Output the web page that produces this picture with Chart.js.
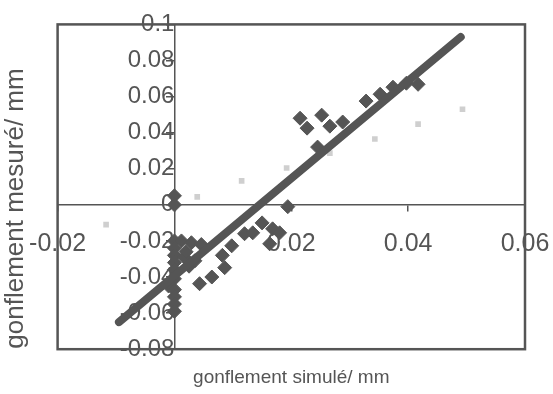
<!DOCTYPE html>
<html>
<head>
<meta charset="utf-8">
<script src="https://cdn.jsdelivr.net/npm/chart.js@4/dist/chart.umd.min.js"></script>
<style>
  body { margin: 0; background: #fff; }
</style>
</head>
<body>
<canvas id="chart" width="553" height="394"></canvas>
<script>
// measured points (diamonds)
const measX = [0, 0, 0, 0, 0, 0, 0, -0.001, 0, 0, 0, 0, 0,
  0.0012, 0.0029, 0.0046, 0.0017, 0.0025, 0.002, 0.0035,
  0.0043, 0.0064, 0.0086, 0.0082, 0.0098, 0.012, 0.0134, 0.015, 0.0168, 0.018, 0.0163, 0.0194,
  0.0215, 0.0227, 0.0252, 0.0266, 0.0288, 0.0245, 0.0328, 0.0352, 0.0374, 0.0397, 0.0417];
const measY = [0.005, 0.0, -0.02, -0.024, -0.028, -0.032, -0.036, -0.045, -0.041, -0.047, -0.051, -0.055, -0.059,
  -0.02, -0.021, -0.022, -0.029, -0.034, -0.026, -0.031,
  -0.0437, -0.04, -0.0348, -0.028, -0.0227, -0.016, -0.0155, -0.01, -0.0133, -0.0155, -0.0216, -0.001,
  0.048, 0.0425, 0.0497, 0.0436, 0.0459, 0.032, 0.0575, 0.0613, 0.0652, 0.0674, 0.0668];

// faint grey points
const faintX = [-0.0117, 0.0039, 0.0115, 0.0192, 0.0266, 0.0343, 0.0417, 0.0493];
const faintY = [-0.011, 0.0044, 0.0133, 0.0204, 0.0287, 0.0365, 0.0447, 0.053];

// trend line
const lineX = [-0.0095, 0.049];
const lineY = [-0.065, 0.093];

const xTicks = [-0.02, 0, 0.02, 0.04, 0.06];
const xTickLabels = ['-0.02', '', '0.02', '0.04', '0.06'];
const yTicks = [-0.08, -0.06, -0.04, -0.02, 0, 0.02, 0.04, 0.06, 0.08, 0.1];
const yTickLabels = ['-0.08', '-0.06', '-0.04', '-0.02', '0', '0.02', '0.04', '0.06', '0.08', '0.1'];

const toPts = (xs, ys) => xs.map((x, i) => ({ x: x, y: ys[i] }));
const ink = '#555';
const font = "'Liberation Sans', Arial, sans-serif";

// box round the plot area
const frame = {
  id: 'frame',
  afterDraw(chart) {
    const a = chart.chartArea, ctx = chart.ctx;
    ctx.save();
    ctx.strokeStyle = ink;
    ctx.lineWidth = 2.5;
    ctx.strokeRect(a.left, a.top, a.right - a.left, a.bottom - a.top);
    ctx.restore();
  }
};

new Chart(document.getElementById('chart'), {
  type: 'scatter',
  data: {
    datasets: [
      {
        data: toPts(lineX, lineY),
        type: 'line',
        showLine: true,
        borderColor: ink,
        borderWidth: 8,
        borderCapStyle: 'round',
        pointRadius: 0,
        order: 0
      },
      {
        data: toPts(measX, measY),
        pointStyle: 'rectRot',
        pointRadius: 7,
        backgroundColor: ink,
        borderColor: ink,
        borderWidth: 1,
        order: 1
      },
      {
        data: toPts(faintX, faintY),
        pointStyle: 'rect',
        pointRadius: 4,
        backgroundColor: 'rgba(195,195,195,0.8)',
        borderColor: 'rgba(195,195,195,0.8)',
        borderWidth: 0,
        order: 2
      }
    ]
  },
  options: {
    responsive: false,
    animation: false,
    layout: { padding: { top: 23, right: 28, left: 0, bottom: 0 } },
    plugins: {
      legend: { display: false },
      tooltip: { enabled: false },
      title: {
        display: true,
        position: 'left',
        text: 'gonflement mesuré/ mm',
        color: ink,
        font: { family: font, size: 26, weight: 'normal', lineHeight: 1.1 },
        padding: { top: 2, bottom: 27 }
      },
      subtitle: {
        display: true,
        position: 'bottom',
        fullSize: false,
        text: 'gonflement simulé/ mm',
        color: ink,
        font: { family: font, size: 19, weight: 'normal' },
        padding: { top: 17, bottom: 5 }
      }
    },
    scales: {
      x: {
        type: 'linear',
        min: -0.02,
        max: 0.06,
        position: { y: 0 },
        afterBuildTicks: s => { s.ticks = xTicks.map(v => ({ value: v })); },
        // labels may hang over the frame, as in the original
        afterFit: s => { s.paddingLeft = 0; s.paddingRight = 0; },
        ticks: {
          callback: (v, i) => xTickLabels[i],
          color: ink,
          font: { family: font, size: 25 },
          padding: 18,
          maxRotation: 0,
          autoSkip: false
        },
        grid: { drawOnChartArea: false, tickLength: 6, color: ink, lineWidth: 1.5 },
        border: { display: true, color: ink, width: 1.5 }
      },
      y: {
        type: 'linear',
        min: -0.08,
        max: 0.1,
        position: { x: 0 },
        afterBuildTicks: s => { s.ticks = yTicks.map(v => ({ value: v })); },
        ticks: {
          callback: (v, i) => yTickLabels[i],
          color: ink,
          font: { family: font, size: 24 },
          padding: 10,
          autoSkip: false
        },
        grid: { drawOnChartArea: false, tickLength: 8, color: ink, lineWidth: 1.5 },
        border: { display: true, color: ink, width: 1.5 }
      }
    }
  },
  plugins: [frame]
});
</script>
</body>
</html>
